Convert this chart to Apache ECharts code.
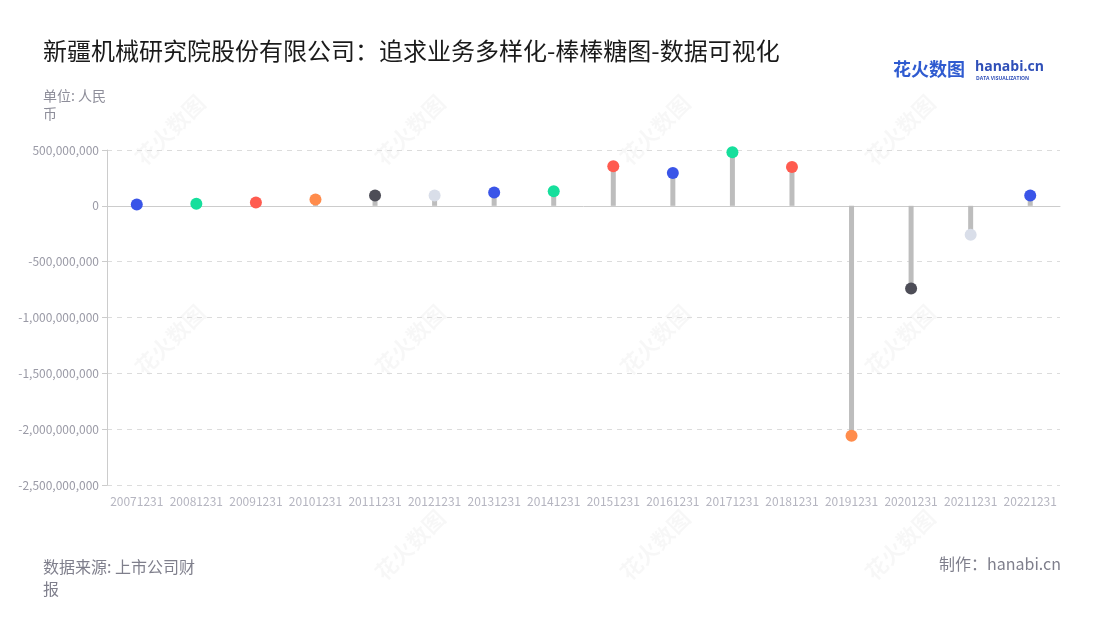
<!DOCTYPE html>
<html><head><meta charset="utf-8">
<script src="https://cdn.jsdelivr.net/npm/echarts@6/dist/echarts.min.js"></script>
<style>html,body{margin:0;padding:0;background:#fff}#c{width:1100px;height:620px}</style>
</head><body><div id="c"></div>
<script>
const categories = ['20071231','20081231','20091231','20101231','20111231','20121231','20131231','20141231','20151231','20161231','20171231','20181231','20191231','20201231','20211231','20221231'];
const values = [12000000, 18000000, 30000000, 56000000, 92000000, 92000000, 119000000, 131000000, 354000000, 295000000, 479000000, 348000000, -2060000000, -741000000, -259000000, 92000000];
const dotColors = ['#3a55e8','#16df9c','#ff5b4f','#ff8c4c','#4d4d57','#d9dee9','#3a55e8','#16df9c','#ff5b4f','#3a55e8','#16df9c','#ff5b4f','#ff8c4c','#4d4d57','#d9dee9','#3a55e8'];
const yTicks = {min:-2500000000, max:500000000, interval:500000000};

const FONT = '"Noto Sans CJK SC","Noto Sans",sans-serif';
const chart = echarts.init(document.getElementById('c'), null, {renderer:'canvas'});

const watermarks = [];
const wmPos = [[170,130],[410,130],[655,130],[900,130],[170,340],[410,340],[655,340],[900,340],[410,545],[655,545],[900,545]];
wmPos.forEach(p=>{
  watermarks.push({type:'text', x:p[0], y:p[1], rotation:Math.PI/4, z:0, silent:true,
    style:{text:'花火数图', font:'bold 22px '+FONT, fill:'rgba(0,0,0,0.03)', align:'center', verticalAlign:'middle'}});
});

chart.setOption({
  animation:false,
  backgroundColor:'#fff',
  textStyle:{fontFamily:FONT},
  grid:{left:107, right:40, top:150, bottom:135, containLabel:false},
  graphic:[
    ...watermarks,
    {type:'text', left:43, top:39, style:{text:'新疆机械研究院股份有限公司：追求业务多样化-棒棒糖图-数据可视化', font:'24px '+FONT, fill:'#1a1a1a'}},
    {type:'text', left:43, top:87, style:{text:'单位: 人民\n币', font:'14px '+FONT, fill:'#8e8e9a', lineHeight:18}},
    {type:'text', left:43, top:556, style:{text:'数据来源: 上市公司财\n报', font:'16px '+FONT, fill:'#7f7f8c', lineHeight:22}},
    {type:'text', right:39, top:556, style:{text:'制作：hanabi.cn', font:'16px '+FONT, fill:'#7f7f8c'}},
    {type:'text', left:893, top:60, style:{text:'花火数图', font:'bold 18px '+FONT, fill:'#2f5bd0'}},
    {type:'text', left:975, top:60, style:{text:'hanabi.cn', font:'bold 14px "Open Sans",sans-serif', fill:'#2f4fb8'}},
    {type:'text', left:976, top:76, style:{text:'DATA VISUALIZATION', font:'bold 5px "Open Sans",sans-serif', fill:'#2f4fb8'}}
  ],
  xAxis:{
    type:'category', data:categories,
    axisLine:{lineStyle:{color:'#cccccc'}},
    axisTick:{alignWithLabel:true, lineStyle:{color:'#cccccc'}},
    axisLabel:{interval:0, color:'#b5b5c0', fontSize:12, margin:10}
  },
  yAxis:{
    type:'value', min:yTicks.min, max:yTicks.max, interval:yTicks.interval,
    axisLine:{show:true, lineStyle:{color:'#cccccc'}},
    axisTick:{show:true, lineStyle:{color:'#cccccc'}},
    axisLabel:{color:'#9a9aa6', fontSize:12, formatter:v=>v.toLocaleString('en-US')},
    splitLine:{lineStyle:{type:[5,5], color:'#dcdcdc'}}
  },
  series:[
    {type:'bar', data:values, barWidth:5, itemStyle:{color:'#bdbdbd'}, z:2},
    {type:'scatter', data:values.map((v,i)=>({value:v, itemStyle:{color:dotColors[i], opacity:1}})), symbolSize:12, z:3}
  ]
});
</script></body></html>
